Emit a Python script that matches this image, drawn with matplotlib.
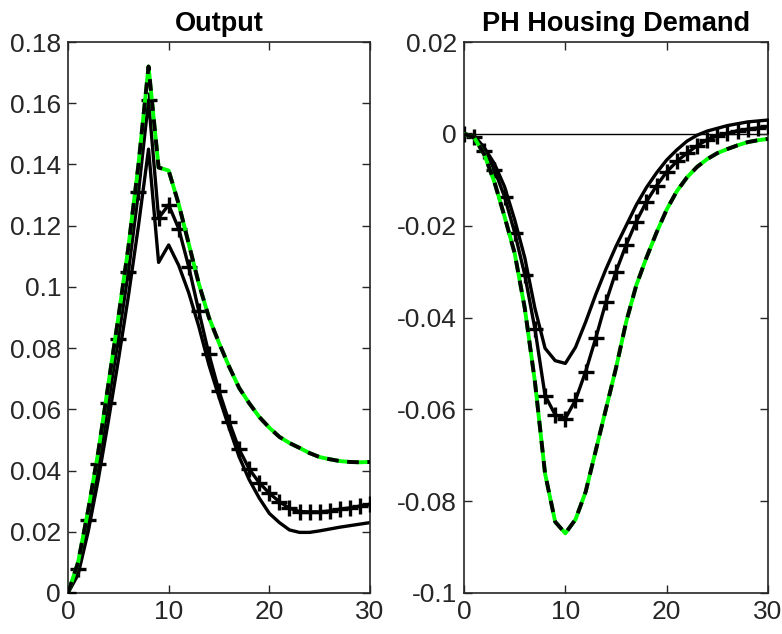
import matplotlib
matplotlib.use("Agg")
import matplotlib.pyplot as plt
from matplotlib.ticker import FuncFormatter
import numpy as np

plt.rcParams['font.family'] = ['Liberation Sans', 'DejaVu Sans']

t = list(range(31))

# Output panel
out_solid = [0, 0.006, 0.020, 0.037, 0.056, 0.076, 0.097, 0.120, 0.145, 0.108, 0.1137,
             0.107, 0.098, 0.087, 0.0745, 0.064, 0.054, 0.0445, 0.037, 0.031, 0.026,
             0.023, 0.0206, 0.0198, 0.0198, 0.0203, 0.0209, 0.0215, 0.022, 0.0225, 0.023]
out_plus = [0, 0.008, 0.024, 0.042, 0.062, 0.083, 0.105, 0.131, 0.161, 0.1225, 0.1268,
            0.119, 0.1065, 0.092, 0.078, 0.066, 0.056, 0.047, 0.0405, 0.036, 0.0326,
            0.0298, 0.0277, 0.0266, 0.0265, 0.0265, 0.0268, 0.0274, 0.0278, 0.0284, 0.029]
out_base = [0, 0.010, 0.027, 0.046, 0.068, 0.090, 0.113, 0.140, 0.172, 0.139, 0.138,
            0.127, 0.114, 0.101, 0.090, 0.0817, 0.074, 0.067, 0.062, 0.0575, 0.054,
            0.051, 0.049, 0.0474, 0.0457, 0.0444, 0.0437, 0.0431, 0.0428, 0.0427, 0.0428]

# PH Housing Demand panel
hd_solid = [0, -0.0004, -0.003, -0.0065, -0.0115, -0.0187, -0.027, -0.038, -0.0467, -0.0494, -0.050,
            -0.0465, -0.041, -0.035, -0.0295, -0.0245, -0.020, -0.0155, -0.0117, -0.0085, -0.0057,
            -0.0035, -0.0016, -0.0003, 0.0006, 0.0012, 0.0018, 0.0022, 0.0026, 0.0028, 0.003]
hd_plus = [0, -0.0006, -0.0037, -0.0078, -0.0137, -0.0215, -0.0307, -0.0425, -0.057, -0.0612, -0.062,
           -0.058, -0.0518, -0.0445, -0.0367, -0.030, -0.0242, -0.0191, -0.0148, -0.0113, -0.0083,
           -0.006, -0.0042, -0.0026, -0.0013, -0.0004, 0.0001, 0.0007, 0.001, 0.0013, 0.0016]
hd_base = [0, -0.0008, -0.0045, -0.0105, -0.018, -0.026, -0.038, -0.054, -0.074, -0.0845, -0.087,
           -0.084, -0.078, -0.069, -0.060, -0.051, -0.041, -0.033, -0.027, -0.0215, -0.0165,
           -0.0125, -0.0095, -0.0072, -0.0055, -0.0042, -0.0033, -0.0025, -0.0018, -0.0014, -0.0011]

titles = ["Output", "PH Housing Demand"]
xticks = [0, 10, 20, 30]
yticks_out = [0, 0.02, 0.04, 0.06, 0.08, 0.1, 0.12, 0.14, 0.16, 0.18]
yticks_hd = [-0.1, -0.08, -0.06, -0.04, -0.02, 0, 0.02]

W, H = 782, 634
fig = plt.figure(figsize=(W / 100, H / 100), dpi=100)
ax1 = fig.add_axes([68 / W, 41 / H, 302 / W, 551 / H])
ax2 = fig.add_axes([464 / W, 41 / H, 304 / W, 551 / H])

axcol = '#262626'
fmt = FuncFormatter(lambda v, p: ('%g' % round(v, 6)))


def draw(ax, solid, plus, base, yticks, ylim, title, zero=False):
    if zero:
        ax.plot([t[0], t[-1]], [0, 0], color='k', lw=1.0, zorder=1)
    ax.plot(t, solid, color='k', lw=2.4, zorder=2)
    ax.plot(t, plus, color='k', lw=2.4, marker='+', ms=12, mew=2.4, zorder=3)
    ax.plot(t, base, color='#00ff00', lw=2.8, zorder=4)
    ax.plot(t, base, color='k', lw=2.8, ls=(0, (3, 2.2)), zorder=5)
    ax.set_xlim(0, 30)
    ax.set_ylim(*ylim)
    ax.set_xticks(xticks)
    ax.set_yticks(yticks)
    ax.xaxis.set_major_formatter(fmt)
    ax.yaxis.set_major_formatter(fmt)
    ax.tick_params(direction='in', top=True, right=True, length=6, width=1,
                   color=axcol, labelcolor=axcol, labelsize=19, pad=5)
    for s in ax.spines.values():
        s.set_color(axcol)
        s.set_linewidth(1.2)
    ax.set_title(title, fontsize=19.5, fontweight='bold', color='k', pad=8)


draw(ax1, out_solid, out_plus, out_base, yticks_out, (0, 0.18), titles[0])
draw(ax2, hd_solid, hd_plus, hd_base, yticks_hd, (-0.1, 0.02), titles[1], zero=True)

fig.savefig("out.png", dpi=100)
